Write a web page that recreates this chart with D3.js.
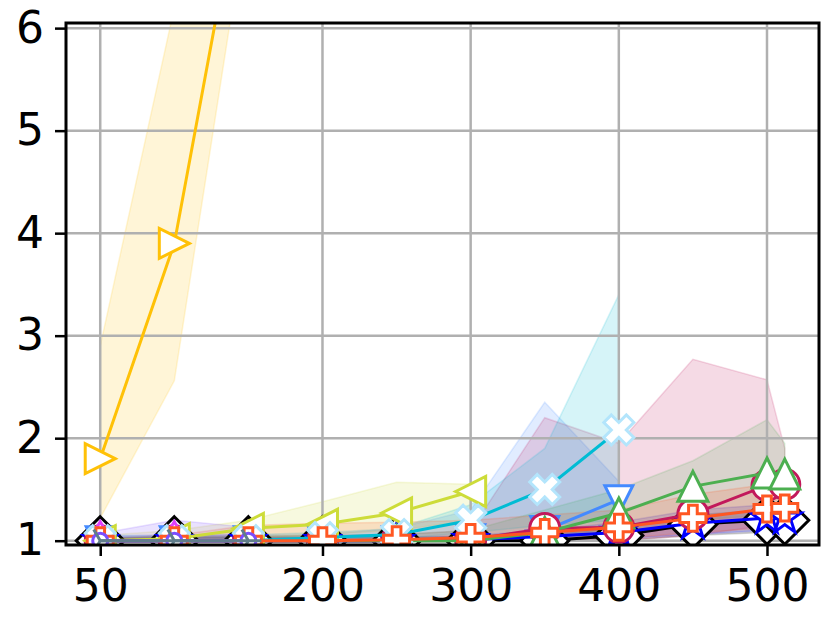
<html>
<head>
<script src="https://d3js.org/d3.v7.min.js"></script>
<style>
body { margin: 0; background: #fff; }
svg { display: block; font-family: 'DejaVu Sans', sans-serif; }
</style>
</head>
<body>
<div id="plot"></div>
<script>
// ---- data ----
var xAll = [50, 100, 150, 200, 250, 300, 350, 400, 450, 500, 512];
var xLeft = [50, 100, 150];
var xTo300 = [50, 100, 150, 200, 250, 300];
var xTo400 = [50, 100, 150, 200, 250, 300, 350, 400];

var xTickValues = [50, 200, 300, 400, 500];
var yTickValues = [1, 2, 3, 4, 5, 6];

var blackMean = [1.0, 1.0, 1.0, 1.0, 1.0, 1.0, 1.0, 1.05, 1.16, 1.2, 1.2];
var blackLo   = [1.0, 1.0, 1.0, 1.0, 1.0, 1.0, 0.99, 1.0, 1.05, 1.08, 1.1];
var blackHi   = [1.03, 1.03, 1.03, 1.03, 1.03, 1.04, 1.06, 1.12, 1.25, 1.3, 1.3];

var starMean = [1.0, 1.0, 1.0, 1.0, 1.0, 1.01, 1.04, 1.08, 1.17, 1.22, 1.22];
var starLo   = [1.0, 1.0, 1.0, 1.0, 1.0, 1.0, 1.0, 1.02, 1.06, 1.1, 1.1];
var starHi   = [1.02, 1.03, 1.03, 1.03, 1.03, 1.05, 1.1, 1.18, 1.3, 1.35, 1.33];

var vMean = [1.0, 1.0, 1.0, 1.0, 1.0, 1.02, 1.1, 1.4];
var vLo   = [1.0, 1.0, 1.0, 1.0, 1.0, 1.0, 1.0, 1.15];
var vHi   = [1.03, 1.05, 1.05, 1.06, 1.12, 1.3, 2.35, 1.58];

var circleMean = [1.0, 1.0, 1.0, 1.0, 1.0, 1.01, 1.12, 1.13, 1.26, 1.54, 1.55];
var circleLo   = [1.0, 1.0, 1.0, 1.0, 1.0, 1.0, 1.0, 1.0, 1.05, 1.15, 1.2];
var circleHi   = [1.02, 1.03, 1.04, 1.05, 1.06, 1.1, 2.2, 1.95, 2.77, 2.57, 1.9];

var triMean = [1.0, 1.0, 1.0, 1.0, 1.0, 1.0, 1.08, 1.27, 1.53, 1.66, 1.65];
var triLo   = [1.0, 1.0, 1.0, 1.0, 1.0, 1.0, 1.0, 1.05, 1.2, 1.25, 1.3];
var triHi   = [1.02, 1.03, 1.04, 1.05, 1.06, 1.1, 1.3, 1.5, 1.78, 2.18, 1.95];

var thinMean = [1.0, 1.0, 1.0];
var thinLo   = [1.0, 1.0, 1.0];
var thinHi   = [1.04, 1.06, 1.05];

var limeMean = [1.0, 1.02, 1.12, 1.16, 1.27, 1.48];
var limeLo   = [1.0, 1.0, 1.03, 1.06, 1.1, 1.2];
var limeHi   = [1.05, 1.1, 1.2, 1.38, 1.57, 1.55];

var amberMean = [1.8, 3.9, 7.8];
var amberLo   = [1.22, 2.56, 7.2];
var amberHi   = [2.9, 6.2, 8.6];

var xMean = [1.0, 1.0, 1.0, 1.03, 1.06, 1.2, 1.5, 2.08];
var xLo   = [1.0, 1.0, 1.0, 1.0, 1.02, 1.08, 1.15, 1.2];
var xHi   = [1.05, 1.05, 1.06, 1.08, 1.12, 1.35, 1.9, 3.4];

var plusMean = [1.0, 1.0, 1.0, 1.0, 1.01, 1.03, 1.08, 1.13, 1.22, 1.31, 1.32];
var plusLo   = [1.0, 1.0, 1.0, 1.0, 1.0, 1.0, 1.0, 1.02, 1.08, 1.12, 1.15];
var plusHi   = [1.02, 1.05, 1.15, 1.17, 1.18, 1.2, 1.25, 1.3, 1.45, 1.55, 1.5];

var purpleMean = [1.0, 1.0, 1.0];
var purpleLo   = [1.0, 1.0, 1.0];
var purpleHi   = [1.07, 1.2, 1.13];

var greyMean = [1.0, 1.0, 1.0];
var greyLo   = [1.0, 1.0, 1.0];
var greyHi   = [1.02, 1.05, 1.03];

// ---- series (drawing order = bottom to top) ----
var series = [
  { xs: xAll,   mean: blackMean,  lo: blackLo,  hi: blackHi,  color: "#000000", edge: "#000000", marker: "D", size: 24 },
  { xs: xAll,   mean: starMean,   lo: starLo,   hi: starHi,   color: "#0000ff", edge: "#0000ff", marker: "*", size: 17 },
  { xs: xTo400, mean: vMean,      lo: vLo,      hi: vHi,      color: "#448aff", edge: "#448aff", marker: "v", size: 28 },
  { xs: xAll,   mean: circleMean, lo: circleLo, hi: circleHi, color: "#c2185b", edge: "#c2185b", marker: "o", size: 15 },
  { xs: xAll,   mean: triMean,    lo: triLo,    hi: triHi,    color: "#4caf50", edge: "#4caf50", marker: "^", size: 30 },
  { xs: xLeft,  mean: thinMean,   lo: thinLo,   hi: thinHi,   color: "#e040fb", edge: "#e040fb", marker: "d", size: 19 },
  { xs: xTo300, mean: limeMean,   lo: limeLo,   hi: limeHi,   color: "#cddc39", edge: "#cddc39", marker: "<", size: 30 },
  { xs: xLeft,  mean: amberMean,  lo: amberLo,  hi: amberHi,  color: "#ffc107", edge: "#ffc107", marker: ">", size: 30 },
  { xs: xTo400, mean: xMean,      lo: xLo,      hi: xHi,      color: "#00bcd4", edge: "#b3e5fc", marker: "X", size: 30 },
  { xs: xAll,   mean: plusMean,   lo: plusLo,   hi: plusHi,   color: "#ff5722", edge: "#ff5722", marker: "P", size: 26 },
  { xs: xLeft,  mean: purpleMean, lo: purpleLo, hi: purpleHi, color: "#7c4dff", edge: "#7c4dff", marker: "o", size: 7.5 },
  { xs: xLeft,  mean: greyMean,   lo: greyLo,   hi: greyHi,   color: "#607d8b", edge: "#607d8b", marker: "4", size: 13 }
];

var width = 832, height = 622;
var mLeft = 66, mRight = 819, mTop = 23, mBottom = 545;

var xScale = d3.scaleLinear().domain([26.9, 535.1]).range([mLeft, mRight]);
var yScale = d3.scaleLinear().domain([0.958, 6.05]).range([mBottom, mTop]);

var svg = d3.select("#plot").append("svg")
  .attr("width", width).attr("height", height);

svg.append("defs").append("clipPath").attr("id", "clip")
  .append("rect").attr("x", mLeft).attr("y", mTop)
  .attr("width", mRight - mLeft).attr("height", mBottom - mTop);

function pts(s) {
  return s.xs.map(function (x, i) {
    return { x: x, y: s.mean[i], lo: s.lo[i], hi: s.hi[i] };
  });
}

// marker shapes, roughly matplotlib's
function markerPath(m, s) {
  var h = s / 2;
  if (m === "^") return "M0," + (-h) + "L" + h + "," + h + "L" + (-h) + "," + h + "Z";
  if (m === "v") return "M0," + h + "L" + h + "," + (-h) + "L" + (-h) + "," + (-h) + "Z";
  if (m === ">") return "M" + h + ",0L" + (-h) + "," + (-h) + "L" + (-h) + "," + h + "Z";
  if (m === "<") return "M" + (-h) + ",0L" + h + "," + (-h) + "L" + h + "," + h + "Z";
  if (m === "D") return "M0," + (-s) + "L" + s + ",0L0," + s + "L" + (-s) + ",0Z";
  if (m === "d") return "M0," + (-s) + "L" + (s * 0.6) + ",0L0," + s + "L" + (-s * 0.6) + ",0Z";
  if (m === "o") return "M" + s + ",0A" + s + "," + s + " 0 1,1 " + (-s) + ",0A" + s + "," + s + " 0 1,1 " + s + ",0Z";
  if (m === "*") {
    var p = [];
    for (var k = 0; k < 10; k++) {
      var r = k % 2 === 0 ? s : s * 0.381966;
      var a = -Math.PI / 2 + k * Math.PI / 5;
      p.push([r * Math.cos(a), r * Math.sin(a)]);
    }
    return "M" + p.join("L") + "Z";
  }
  if (m === "P") {
    var v = [[-1, -3], [-1, -1], [-3, -1], [-3, 1], [-1, 1], [-1, 3], [1, 3], [1, 1], [3, 1], [3, -1], [1, -1], [1, -3]];
    return "M" + v.map(function (d) { return [d[0] * s / 6, d[1] * s / 6]; }).join("L") + "Z";
  }
  if (m === "X") {
    var w = [[-1, -2], [0, -1], [1, -2], [2, -1], [1, 0], [2, 1], [1, 2], [0, 1], [-1, 2], [-2, 1], [-1, 0], [-2, -1]];
    return "M" + w.map(function (d) { return [d[0] * s / 4, d[1] * s / 4]; }).join("L") + "Z";
  }
  if (m === "4") {
    return "M0,0L" + s + ",0M0,0L" + (-s / 2) + "," + (-s * 0.866) + "M0,0L" + (-s / 2) + "," + (s * 0.866);
  }
  return "";
}

var plot = svg.append("g").attr("clip-path", "url(#clip)");

// bands
var area = d3.area()
  .x(function (d) { return xScale(d.x); })
  .y0(function (d) { return yScale(d.lo); })
  .y1(function (d) { return yScale(d.hi); });

plot.selectAll("path.band").data(series).enter().append("path")
  .attr("class", "band")
  .attr("d", function (s) { return area(pts(s)); })
  .style("fill", function (s) { return s.color; })
  .style("fill-opacity", 0.16)
  .style("stroke", function (s) { return s.color; })
  .style("stroke-opacity", 0.16)
  .style("stroke-width", 1.5);

// grid
var grid = svg.append("g");
grid.selectAll("line.gx").data(xTickValues).enter().append("line")
  .attr("x1", function (d) { return xScale(d); })
  .attr("x2", function (d) { return xScale(d); })
  .attr("y1", mTop).attr("y2", mBottom)
  .style("stroke", "#b0b0b0").style("stroke-width", 2.5);
grid.selectAll("line.gy").data(yTickValues).enter().append("line")
  .attr("y1", function (d) { return yScale(d); })
  .attr("y2", function (d) { return yScale(d); })
  .attr("x1", mLeft).attr("x2", mRight)
  .style("stroke", "#b0b0b0").style("stroke-width", 2.5);

// lines + markers
var line = d3.line()
  .x(function (d) { return xScale(d.x); })
  .y(function (d) { return yScale(d.y); });

var marks = svg.append("g").attr("clip-path", "url(#clip)");
series.forEach(function (s) {
  var g = marks.append("g");
  g.append("path")
    .attr("d", line(pts(s)))
    .style("fill", "none")
    .style("stroke", s.color)
    .style("stroke-width", 3);
  g.selectAll("path.m").data(pts(s)).enter().append("path")
    .attr("transform", function (d) { return "translate(" + xScale(d.x) + "," + yScale(d.y) + ")"; })
    .attr("d", markerPath(s.marker, s.size))
    .style("fill", s.marker === "4" ? "none" : "#ffffff")
    .style("stroke", s.edge)
    .style("stroke-width", 3)
    .style("stroke-linejoin", "miter");
});

// axes
var xAxis = d3.axisBottom(xScale).tickValues(xTickValues)
  .tickFormat(d3.format("d"))
  .tickSize(11).tickSizeOuter(0).tickPadding(14);
var yAxis = d3.axisLeft(yScale).tickValues(yTickValues)
  .tickFormat(d3.format("d"))
  .tickSize(11).tickSizeOuter(0).tickPadding(11);

var gx = svg.append("g").attr("transform", "translate(0," + mBottom + ")").call(xAxis);
var gy = svg.append("g").attr("transform", "translate(" + mLeft + ",0)").call(yAxis);
[gx, gy].forEach(function (g) {
  g.select(".domain").remove();
  g.selectAll(".tick line").style("stroke", "#000").style("stroke-width", 2.5);
  g.selectAll(".tick text")
    .style("font-family", "'DejaVu Sans', sans-serif")
    .style("font-size", "44px").style("fill", "#000");
});

// frame
svg.append("rect")
  .attr("x", mLeft).attr("y", mTop)
  .attr("width", mRight - mLeft).attr("height", mBottom - mTop)
  .style("fill", "none").style("stroke", "#000").style("stroke-width", 3);
</script>
</body>
</html>
